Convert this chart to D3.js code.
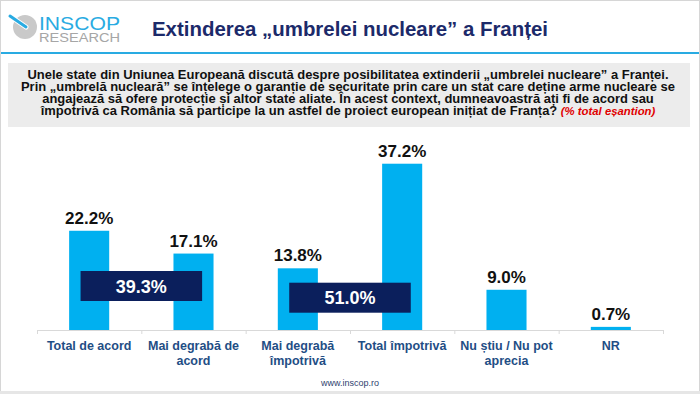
<!DOCTYPE html>
<html>
<head>
<meta charset="utf-8">
<script src="https://cdn.jsdelivr.net/npm/d3@7"></script>
<style>
  body { margin: 0; background: #fff; }
  svg { display: block; font-family: "Liberation Sans", Arial, sans-serif; }
</style>
</head>
<body>
<svg width="700" height="394"></svg>
<script>
// answer categories (each entry = lines of the label)
var categories = [
  ["Total de acord"],
  ["Mai degrabă de", "acord"],
  ["Mai degrabă", "împotrivă"],
  ["Total împotrivă"],
  ["Nu știu / Nu pot", "aprecia"],
  ["NR"]
];
var values = [22.2, 17.1, 13.8, 37.2, 9.0, 0.7];
// combined totals, drawn between pairs of bars
var totalLabels = ["39.3%", "51.0%"];
var totalPairs = [[0, 1], [2, 3]];

var questionLines = [
  "Unele state din Uniunea Europeană discută despre posibilitatea extinderii „umbrelei nucleare” a Franței.",
  "Prin „umbrelă nucleară” se înțelege o garanție de securitate prin care un stat care deține arme nucleare se",
  "angajează să ofere protecție și altor state aliate. În acest context, dumneavoastră ați fi de acord sau",
  "împotrivă ca România să participe la un astfel de proiect european inițiat de Franța? "
];
var questionNote = "(% total eșantion)";

var svg = d3.select("svg"),
  width = +svg.attr("width"),
  height = +svg.attr("height");

// slide frame
svg.append("rect")
  .attr("x", 0.5).attr("y", 0.5)
  .attr("width", width - 1).attr("height", height - 1)
  .attr("fill", "#fff").attr("stroke", "#d6d6d6");

// --- logo ---
var logo = svg.append("g");
logo.append("circle").attr("cx", 25).attr("cy", 27).attr("r", 12).attr("fill", "#c9c9c9");
logo.append("line")
  .attr("x1", 10).attr("y1", 16).attr("x2", 26).attr("y2", 27)
  .attr("stroke", "#fff").attr("stroke-width", 5).attr("stroke-linecap", "round");
logo.append("line")
  .attr("x1", 10).attr("y1", 16).attr("x2", 26).attr("y2", 27)
  .attr("stroke", "#29abe2").attr("stroke-width", 3).attr("stroke-linecap", "round");
logo.append("text")
  .attr("x", 39).attr("y", 29.5)
  .attr("font-size", 19).attr("fill", "#29abe2")
  .attr("textLength", 81).attr("lengthAdjust", "spacingAndGlyphs")
  .text("INSCOP");
logo.append("text")
  .attr("x", 39).attr("y", 41.5)
  .attr("font-size", 12).attr("fill", "#a6a6a6")
  .attr("textLength", 81).attr("lengthAdjust", "spacingAndGlyphs")
  .text("RESEARCH");

// title
svg.append("text")
  .attr("x", 152).attr("y", 36)
  .attr("font-size", 20).attr("font-weight", "bold").attr("fill", "#1c2a6a")
  .attr("textLength", 396).attr("lengthAdjust", "spacingAndGlyphs")
  .text("Extinderea „umbrelei nucleare” a Franței");

svg.append("line")
  .attr("x1", 1).attr("x2", width - 1).attr("y1", 53).attr("y2", 53)
  .attr("stroke", "#29abe2").attr("stroke-width", 2);

// --- question box ---
svg.append("rect")
  .attr("x", 8).attr("y", 63).attr("width", 682).attr("height", 64)
  .attr("fill", "#ececec");

var qLines = svg.append("g").selectAll("text")
  .data(questionLines)
  .enter().append("text")
  .attr("x", 348).attr("y", function (d, i) { return 78.5 + i * 12.2; })
  .attr("text-anchor", "middle")
  .attr("font-size", 12).attr("font-weight", "bold").attr("fill", "#111");
qLines.append("tspan").text(function (d) { return d; });
qLines.filter(function (d, i) { return i === questionLines.length - 1; })
  .append("tspan")
  .attr("font-style", "italic").attr("font-size", 10.5).attr("fill", "#e00000")
  .text(questionNote);
// stretch lines slightly to the width seen in the slide
var stretch = 641 / qLines.node().getComputedTextLength();
qLines.each(function () {
  var w = this.getComputedTextLength();
  d3.select(this).attr("textLength", w * stretch).attr("lengthAdjust", "spacingAndGlyphs");
});

// --- chart ---
var x = d3.scaleBand()
  .domain(d3.range(categories.length))
  .range([37, 663])
  .paddingInner(0.616)
  .paddingOuter(0.308);

var y = d3.scaleLinear().domain([0, 40]).range([330, 151.2]);

// axis line with ticks at category boundaries
var axis = d3.scaleLinear().domain([0, categories.length]).range(x.range());
svg.append("g")
  .attr("transform", "translate(0," + y(0) + ")")
  .call(d3.axisBottom(axis).ticks(categories.length).tickSize(4).tickSizeOuter(4).tickFormat(""))
  .call(function (g) {
    g.selectAll("path,line").attr("stroke", "#d9d9d9");
  });

svg.append("g").selectAll("rect")
  .data(values)
  .enter().append("rect")
  .attr("x", function (d, i) { return x(i); })
  .attr("width", x.bandwidth())
  .attr("y", function (d) { return y(d); })
  .attr("height", function (d) { return y(0) - y(d); })
  .attr("fill", "#00b0f0");

svg.append("g").selectAll("text")
  .data(values)
  .enter().append("text")
  .attr("x", function (d, i) { return x(i) + x.bandwidth() / 2; })
  .attr("y", function (d) { return y(d) - 7; })
  .attr("text-anchor", "middle")
  .attr("font-size", 17).attr("font-weight", "bold").attr("fill", "#111")
  .text(function (d) { return d.toFixed(1) + "%"; });

// category labels
var labels = svg.append("g").selectAll("text")
  .data(categories)
  .enter().append("text")
  .attr("text-anchor", "middle")
  .attr("font-size", 12.5).attr("font-weight", "bold").attr("fill", "#1f4e85");
labels.each(function (lines, i) {
  var t = d3.select(this);
  lines.forEach(function (l, j) {
    t.append("tspan")
      .attr("x", x(i) + x.bandwidth() / 2)
      .attr("y", 350 + j * 15)
      .text(l);
  });
});

// total boxes
var boxW = 1.165 * x.step(), boxH = 30;
var boxMid = [286, 297.7];
var boxes = svg.append("g").selectAll("g")
  .data(totalLabels)
  .enter().append("g")
  .attr("transform", function (d, i) {
    var p = totalPairs[i];
    var cx = (x(p[0]) + x(p[1]) + x.bandwidth()) / 2;
    return "translate(" + cx + "," + boxMid[i] + ")";
  });
boxes.append("rect")
  .attr("x", -boxW / 2).attr("y", -boxH / 2)
  .attr("width", boxW).attr("height", boxH)
  .attr("fill", "#0b1f5c");
boxes.append("text")
  .attr("text-anchor", "middle").attr("y", 6.5)
  .attr("font-size", 18).attr("font-weight", "bold").attr("fill", "#fff")
  .text(function (d) { return d; });

// footer
svg.append("text")
  .attr("x", 350).attr("y", 386)
  .attr("text-anchor", "middle")
  .attr("font-size", 9).attr("fill", "#2f3f6f")
  .text("www.inscop.ro");
svg.append("rect")
  .attr("x", 0).attr("y", 391).attr("width", width).attr("height", 3)
  .attr("fill", "#e6e6e6");
</script>
</body>
</html>
